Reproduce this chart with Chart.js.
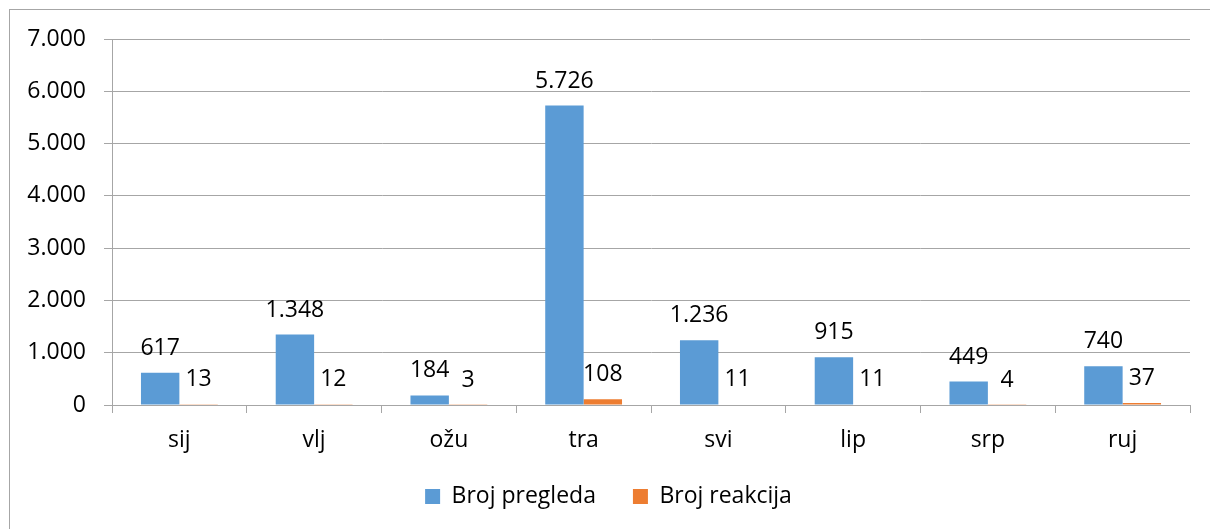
<!DOCTYPE html>
<html>
<head>
<meta charset="utf-8">
<script src="https://cdn.jsdelivr.net/npm/chart.js@4/dist/chart.umd.min.js"></script>
<style>
html,body{margin:0;padding:0;background:#fff}
#wrap{position:relative;width:1210px;height:529px}
#frame{position:absolute;left:9px;top:9px;right:-5px;bottom:-5px;border-left:1px solid #a6a6a6;border-top:1px solid #a6a6a6;pointer-events:none}
</style>
</head>
<body>
<div id="wrap"><canvas id="c" width="1210" height="529"></canvas><div id="frame"></div></div>
<script>
const mjeseci=['sij','vlj','ožu','tra','svi','lip','srp','ruj'];
const pregledi=[617,1348,184,5726,1236,915,449,740];
const reakcije=[13,12,3,108,11,11,4,37];
const yTicks=[0,1000,2000,3000,4000,5000,6000,7000];

const FONT='"Open Sans", sans-serif';
const fmt=v=>String(v).replace(/\B(?=(\d{3})+(?!\d))/g,'.');

const oznake={id:'oznake',afterDatasetsDraw(ch){
  const c=ch.ctx;c.save();c.font='23px '+FONT;c.fillStyle='#000';c.textAlign='center';c.textBaseline='alphabetic';
  ch.data.datasets.forEach((ds,i)=>{ch.getDatasetMeta(i).data.forEach((b,j)=>{c.fillText(fmt(ds.data[j]),b.x,b.y-18)})});
  c.restore();
}};

new Chart(document.getElementById('c'),{
  type:'bar',
  data:{labels:mjeseci,datasets:[
    {label:'Broj pregleda',data:pregledi,backgroundColor:'#5B9BD5'},
    {label:'Broj reakcija',data:reakcije,backgroundColor:'#ED7D31'}
  ]},
  options:{
    responsive:false,animation:false,
    layout:{padding:{left:27,right:20,top:39,bottom:11}},
    datasets:{bar:{categoryPercentage:0.57,barPercentage:1.0}},
    plugins:{
      tooltip:{enabled:false},
      legend:{position:'bottom',labels:{font:{family:FONT,size:23},color:'#000',boxWidth:15,boxHeight:15,padding:14,
        generateLabels(ch){const l=Chart.defaults.plugins.legend.labels.generateLabels(ch);l[0].text+='\u2003';return l}}}
    },
    scales:{
      x:{
        grid:{drawOnChartArea:false,drawTicks:true,tickLength:8,offset:true,color:'#a6a6a6'},
        border:{color:'#a6a6a6'},
        ticks:{font:{family:FONT,size:23},color:'#000',padding:14},
        afterFit(s){s.height=66}
      },
      y:{
        min:0,max:7000,
        afterBuildTicks(s){s.ticks=yTicks.map(v=>({value:v}))},
        grid:{color:'#a6a6a6',tickLength:8},
        border:{color:'#a6a6a6'},
        ticks:{font:{family:FONT,size:23},color:'#000',padding:18,callback:v=>fmt(v)},
        afterFit(s){s.width=85}
      }
    }
  },
  plugins:[oznake]
});
</script>
</body>
</html>
